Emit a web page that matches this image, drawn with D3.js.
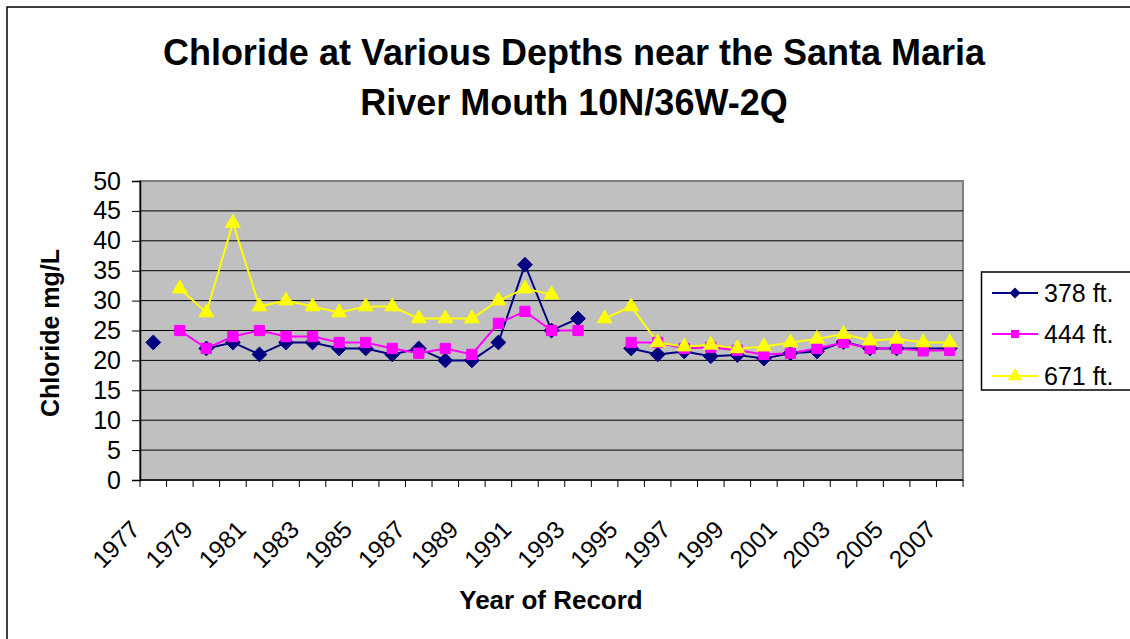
<!DOCTYPE html>
<html>
<head>
<meta charset="utf-8">
<script src="https://cdn.jsdelivr.net/npm/d3@7"></script>
<style>
  html, body { margin: 0; padding: 0; background: #fff; }
  svg { display: block; font-family: Arial, "Liberation Sans", sans-serif; }
</style>
</head>
<body>
<svg id="chart" width="1130" height="639"></svg>
<script>
// ---- data ----
const years = d3.range(1977, 2008).map(String);
const yearLabels = ["1977","1979","1981","1983","1985","1987","1989","1991","1993","1995","1997","1999","2001","2003","2005","2007"];
const yTicks = [0,5,10,15,20,25,30,35,40,45,50];
const seriesNames = ["378 ft.", "444 ft.", "671 ft."];
const s378 = [23,null,22,23,21,23,23,22,22,21,22,20,20,23,36,25,27,null,22,21,21.5,20.7,20.9,20.3,21.2,21.5,23.1,22,22,22,22];
const s444 = [null,25,22,24,25,24,24,23,23,22,21.2,22,21,26.2,28.2,25,25,null,23,23,22,22.2,21.7,21,21.2,22,23,22,22,21.6,21.7];
const s671 = [null,32,28,43,29,30,29,28,29,29,27,27,27,30,32,31,null,27,29,23,22.3,22.6,22,22.3,23,23.6,24.4,23.3,23.6,23,23];
const colors = ["#000080", "#FF00FF", "#FFFF00"];
const symbols = [d3.symbolDiamond2, d3.symbolSquare, d3.symbolTriangle];

const svg = d3.select("#chart");
const plot = {left: 140, right: 963, top: 181, bottom: 480};

// outer frame
svg.append("rect").attr("x", 7).attr("y", 7).attr("width", 1200).attr("height", 800)
  .attr("fill", "#fff").attr("stroke", "#000").attr("stroke-width", 1.5);

// title
const title = svg.append("text").attr("text-anchor", "middle")
  .attr("font-weight", "bold").attr("font-size", 36).attr("fill", "#000");
title.append("tspan").attr("x", 574).attr("y", 65).text("Chloride at Various Depths near the Santa Maria");
title.append("tspan").attr("x", 574).attr("y", 115).text("River Mouth 10N/36W-2Q");

const x = d3.scaleBand().domain(years).range([plot.left, plot.right]).paddingInner(0).paddingOuter(0);
const y = d3.scaleLinear().domain([0, 50]).range([plot.bottom, plot.top]);

// plot background
svg.append("rect").attr("x", plot.left).attr("y", plot.top)
  .attr("width", plot.right - plot.left).attr("height", plot.bottom - plot.top)
  .attr("fill", "#C0C0C0").attr("stroke", "#808080").attr("stroke-width", 2);

// gridlines
svg.append("g").selectAll("line").data(yTicks.filter(d => d > 0 && d < 50)).join("line")
  .attr("x1", plot.left).attr("x2", plot.right)
  .attr("y1", d => y(d)).attr("y2", d => y(d))
  .attr("stroke", "#000").attr("stroke-width", 1);

// y axis
const yAxis = d3.axisLeft(y).tickValues(yTicks).tickSize(8).tickPadding(11).tickFormat(d3.format("d"));
const gy = svg.append("g").attr("transform", `translate(${plot.left},0)`).call(yAxis);
gy.select(".domain").attr("stroke", "#000").attr("stroke-width", 1.5);
gy.selectAll(".tick line").attr("stroke", "#000");
gy.selectAll(".tick text").attr("font-size", 25).attr("font-family", "Arial, 'Liberation Sans', sans-serif").attr("fill", "#000");

// x axis
const gx = svg.append("g");
gx.append("line").attr("x1", plot.left).attr("x2", plot.right).attr("y1", plot.bottom).attr("y2", plot.bottom)
  .attr("stroke", "#000").attr("stroke-width", 1.5);
const boundaries = years.map(d => x(d)).concat([x(years[years.length - 1]) + x.bandwidth()]);
gx.selectAll("line.tk").data(boundaries).join("line").attr("class", "tk")
  .attr("x1", d => d).attr("x2", d => d).attr("y1", plot.bottom).attr("y2", plot.bottom + 7)
  .attr("stroke", "#000");
gx.selectAll("text").data(yearLabels).join("text")
  .attr("transform", d => `translate(${x(d) + x.bandwidth() / 2 - 12},${531}) rotate(-45)`)
  .attr("text-anchor", "end").attr("font-size", 24.5).attr("fill", "#000").text(d => d);

// axis titles
svg.append("text").attr("x", 551).attr("y", 609).attr("text-anchor", "middle")
  .attr("font-weight", "bold").attr("font-size", 26).text("Year of Record");
svg.append("text").attr("transform", "translate(59,333) rotate(-90)").attr("text-anchor", "middle")
  .attr("font-weight", "bold").attr("font-size", 25).text("Chloride mg/L");

// series
const allSeries = [s378, s444, s671];
const line = d3.line().defined(d => d.v != null).x(d => x(d.yr) + x.bandwidth() / 2).y(d => y(d.v));
allSeries.forEach((vals, i) => {
  const pts = vals.map((v, j) => ({yr: years[j], v}));
  svg.append("path").datum(pts).attr("d", line).attr("fill", "none")
    .attr("stroke", colors[i]).attr("stroke-width", 2);
});
allSeries.forEach((vals, i) => {
  const pts = vals.map((v, j) => ({yr: years[j], v})).filter(d => d.v != null);
  const sz = i === 0 ? 140 : i === 1 ? 105 : 95;
  svg.append("g").selectAll("path").data(pts).join("path")
    .attr("transform", d => `translate(${x(d.yr) + x.bandwidth() / 2},${y(d.v)})`)
    .attr("d", d3.symbol().type(symbols[i]).size(sz))
    .attr("fill", colors[i]).attr("stroke", colors[i]).attr("stroke-width", 1);
});

// legend
const lg = svg.append("g");
lg.append("rect").attr("x", 981.5).attr("y", 272).attr("width", 200).attr("height", 118)
  .attr("fill", "#fff").attr("stroke", "#000").attr("stroke-width", 1.5);
const legY = [293, 334, 376];
seriesNames.forEach((name, i) => {
  lg.append("line").attr("x1", 992).attr("x2", 1038).attr("y1", legY[i]).attr("y2", legY[i])
    .attr("stroke", colors[i]).attr("stroke-width", 2);
  lg.append("path").attr("transform", `translate(1015,${legY[i]})`)
    .attr("d", d3.symbol().type(symbols[i]).size(i === 0 ? 80 : i === 1 ? 64 : 90))
    .attr("fill", colors[i]);
  lg.append("text").attr("x", 1044).attr("y", legY[i] + 9).attr("font-size", 25).attr("fill", "#000").text(name);
});
</script>
</body>
</html>
